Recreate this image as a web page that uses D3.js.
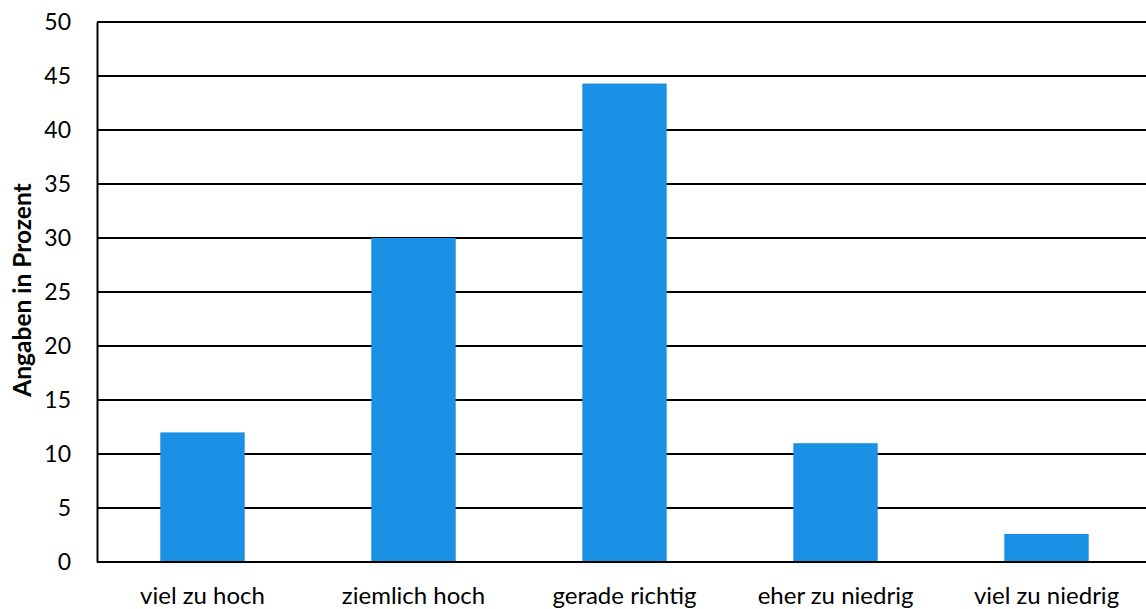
<!DOCTYPE html>
<html>
<head>
<meta charset="utf-8">
<script src="https://d3js.org/d3.v7.min.js"></script>
<style>
body { margin: 0; background: #fff; }
svg text { font-family: Lato, "Open Sans", sans-serif; fill: #000; }
</style>
</head>
<body>
<div id="chart"></div>
<script>
// data
var categories = ["viel zu hoch", "ziemlich hoch", "gerade richtig", "eher zu niedrig", "viel zu niedrig"];
var values = [12.0, 30.0, 44.3, 11.0, 2.6];
var yTicks = [0, 5, 10, 15, 20, 25, 30, 35, 40, 45, 50];

var W = 1146, H = 609;
var plotLeft = 97, plotRight = 1152, plotTop = 22, plotBottom = 562;

var svg = d3.select("#chart").append("svg")
    .attr("width", W)
    .attr("height", H);

var x = d3.scaleBand()
    .domain(categories)
    .range([plotLeft, plotRight])
    .paddingInner(0.6)
    .paddingOuter(0.3);

var y = d3.scaleLinear()
    .domain([0, 50])
    .range([plotBottom, plotTop]);

// gridlines
svg.append("g")
    .selectAll("line")
    .data(yTicks)
    .enter().append("line")
    .attr("x1", plotLeft)
    .attr("x2", W)
    .attr("y1", function(d) { return y(d); })
    .attr("y2", function(d) { return y(d); })
    .attr("stroke", "#000")
    .attr("stroke-width", 2);

// bars
svg.selectAll(".bar")
    .data(values)
    .enter().append("rect")
    .attr("class", "bar")
    .attr("x", function(d, i) { return x(categories[i]); })
    .attr("width", x.bandwidth())
    .attr("y", function(d) { return y(d); })
    .attr("height", function(d) { return plotBottom - y(d); })
    .attr("fill", "#1b91e6");

// y axis
var yAxis = svg.append("g")
    .attr("transform", "translate(" + plotLeft + ",0)")
    .call(d3.axisLeft(y).tickValues(yTicks).tickSize(0).tickPadding(26));
yAxis.select(".domain").attr("stroke", "#000").attr("stroke-width", 2);
yAxis.selectAll("text")
    .style("font-size", "23px")
    .style("font-family", "Lato, sans-serif");

// bottom axis line
svg.append("line")
    .attr("x1", plotLeft).attr("x2", W)
    .attr("y1", plotBottom).attr("y2", plotBottom)
    .attr("stroke", "#000").attr("stroke-width", 2);

// x labels
var xAxis = svg.append("g")
    .attr("transform", "translate(0," + plotBottom + ")")
    .call(d3.axisBottom(x).tickSize(0).tickPadding(25));
xAxis.select(".domain").remove();
xAxis.selectAll("text")
    .style("font-size", "24px")
    .style("font-family", "Lato, sans-serif");

// y title
svg.append("text")
    .attr("transform", "translate(31,290) rotate(-90)")
    .attr("text-anchor", "middle")
    .style("font-size", "24.5px")
    .style("font-weight", "bold")
    .text("Angaben in Prozent");
</script>
</body>
</html>
